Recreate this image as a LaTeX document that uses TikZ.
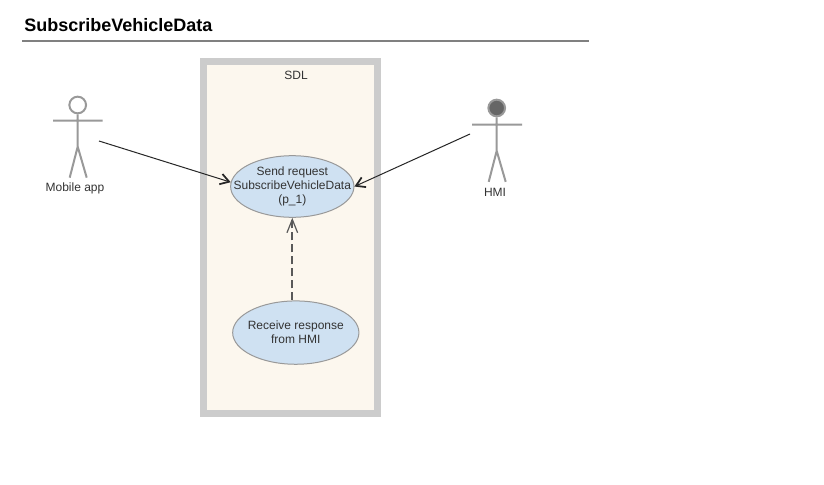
\documentclass[tikz,border=0pt]{standalone}
\usepackage{fontspec}
\setmainfont{Liberation Sans}
\usetikzlibrary{arrows.meta,positioning,shapes.geometric}
\definecolor{usecaseblue}{HTML}{CFE1F2}
\definecolor{framegray}{HTML}{CCCCCC}
\definecolor{framefill}{HTML}{FCF7EE}
\definecolor{actorgray}{HTML}{999999}
\definecolor{textgray}{HTML}{333333}
\tikzset{
  usecase/.style={ellipse, draw=actorgray, fill=usecaseblue, line width=.75pt, inner xsep=-20pt, inner ysep=0pt,
    align=center, font=\fontsize{9}{10.4}\selectfont, text=textgray},
  label text/.style={font=\fontsize{9}{10.4}\selectfont, text=textgray, inner sep=0pt},
  actor line/.style={draw=actorgray, line width=1.5pt},
  head/.style={circle, draw=actorgray, line width=1.5pt, inner sep=0pt, minimum size=12.5pt},
  assoc/.style={-{Straight Barb[length=6.5pt,width=8pt,line width=1.3pt]}, line width=.75pt, black!85},
  depend/.style={-{Straight Barb[length=10pt,width=8pt,line width=.9pt]}, line width=1.5pt,
    dash pattern=on 6pt off 3pt, black!65}
}
\begin{document}
\begin{tikzpicture}[x=.75pt, y=-.75pt]
    \useasboundingbox (0,0) rectangle (824,485);
    \fill[white] (0,0) rectangle (824,485);

    % title
    \node[anchor=west, inner sep=0pt, font=\bfseries\fontsize{13.5}{15}\selectfont] (title) at (24,25) {SubscribeVehicleData};
    \coordinate (ruleStart) at (22,41);
    \coordinate (ruleEnd) at (589,41);
    \draw[line width=1.5pt, black!50] (ruleStart) -- (ruleEnd);

    % system box
    \node[rectangle, draw=framegray, fill=framefill, line width=5.25pt, minimum width=130.5pt, minimum height=263.5pt] (sdl) at (290.5,237.5) {};
    \node[label text] (sdlLabel) at (296,75) {SDL};

    % use cases
    \node[usecase, minimum width=92.5pt, minimum height=46.2pt] (send) at (292.3,186.5) {Send request\\SubscribeVehicleData\\(p\_1)};
    \node[usecase, minimum width=94.7pt, minimum height=47.5pt] (receive) at (295.8,332.6) {Receive response\\from HMI};

    % actors
    \node[head] (mobile) at (77.7,105) {};
    \draw[actor line] (mobile.south) -- ++(0,32.3) coordinate (mobileHip) -- ++(-8,31)
      (mobileHip) -- ++(9,31)
      (53,120.7) -- (102.7,120.7);
    \node[label text] (mobileLabel) at (75,188) {Mobile app};

    \node[head, fill=black!60] (hmi) at (496.7,108) {};
    \draw[actor line] (hmi.south) -- ++(0,33.5) coordinate (hmiHip) -- ++(-8,31)
      (hmiHip) -- ++(9,31)
      (472,124.7) -- (522,124.7);
    \node[label text] (hmiLabel) at (495,192) {HMI};

    % connectors
    \coordinate (mobileStart) at (99,141);
    \coordinate (hmiStart) at (470,134);
    \draw[assoc] (mobileStart) -- (send.176);
    \draw[assoc] (hmiStart) -- (send.east);
    \draw[depend] (send.south |- receive.north) -- (send.south);
\end{tikzpicture}
\end{document}
